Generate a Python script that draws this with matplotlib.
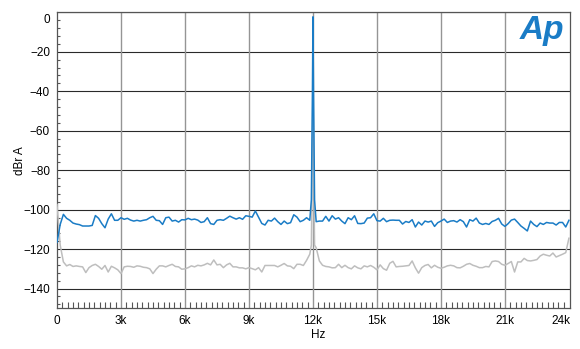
import numpy as np
import matplotlib
matplotlib.use("Agg")
import matplotlib.pyplot as plt
from matplotlib.ticker import MultipleLocator, FuncFormatter
import matplotlib.transforms as mtransforms

# ---------------- data ----------------
freq_step = 150
freqs = np.arange(0, 24001, freq_step)  # Hz

blue_db = [
    -116.6, -107.5, -102.4, -104.4, -105.4, -106.8, -107.3, -107.6, -108.3, -108.3,
    -108.3, -108.0, -103.0, -104.4, -107.1, -109.2, -104.8, -102.1, -105.4, -105.4,
    -104.1, -104.9, -104.4, -105.3, -105.8, -105.4, -105.8, -105.4, -105.1, -104.1,
    -103.4, -105.4, -105.6, -107.5, -104.1, -103.8, -105.8, -105.4, -106.3, -105.1,
    -105.2, -104.4, -105.1, -104.8, -105.3, -106.5, -106.1, -104.1, -107.1, -107.5,
    -105.4, -105.1, -105.4, -104.4, -103.3, -104.1, -104.8, -104.1, -104.9, -103.1,
    -103.4, -103.8, -100.7, -103.8, -107.0, -107.8, -105.4, -105.8, -104.3, -106.1,
    -107.5, -105.8, -107.1, -106.6, -102.6, -103.8, -106.1, -105.4, -104.1, -105.4,
    -2.3, -106.1, -105.8, -105.8, -103.4, -105.8, -103.1, -104.8, -104.1, -105.8,
    -107.1, -104.1, -105.1, -103.1, -107.0, -107.1, -106.8, -104.3, -104.1, -102.1,
    -105.6, -105.8, -104.4, -106.1, -105.4, -105.3, -105.4, -105.4, -107.3, -106.0,
    -106.5, -105.1, -108.8, -106.3, -107.8, -105.8, -106.3, -105.8, -108.5, -106.6,
    -105.8, -104.8, -106.5, -105.8, -105.6, -106.3, -105.1, -106.1, -108.8, -105.1,
    -105.8, -104.3, -106.8, -107.5, -107.0, -107.5, -106.0, -105.4, -104.4, -107.3,
    -108.5, -107.1, -105.3, -104.8, -106.5, -108.3, -109.5, -110.8, -105.8, -107.5,
    -108.6, -106.8, -107.5, -106.5, -106.8, -106.8, -107.8, -106.5, -106.5, -108.8,
    -105.4,
]

gray_db = [
    -97.4, -118.0, -126.5, -128.5, -127.8, -128.8, -128.5, -128.8, -129.0, -131.9,
    -129.4, -128.3, -127.7, -128.8, -130.2, -128.3, -131.6, -128.7, -129.5, -130.5,
    -132.4, -129.0, -128.7, -128.8, -129.2, -128.5, -128.7, -129.2, -129.4, -130.0,
    -132.4, -130.2, -128.5, -128.5, -129.0, -128.3, -127.7, -128.8, -129.0, -130.2,
    -130.0, -129.4, -128.5, -129.0, -128.2, -128.5, -128.0, -127.2, -128.0, -125.5,
    -128.0, -127.7, -129.4, -128.0, -127.2, -129.0, -129.0, -129.5, -129.5, -130.0,
    -129.4, -129.9, -130.5, -129.4, -131.6, -128.3, -128.3, -128.3, -128.3, -129.0,
    -128.2, -127.3, -128.5, -128.7, -129.9, -127.7, -127.7, -128.3, -125.7, -122.6,
    -35.0, -119.3, -126.0, -128.2, -128.8, -129.0, -129.5, -129.4, -127.7, -129.4,
    -128.2, -129.4, -130.0, -128.5, -129.5, -130.0, -128.5, -129.0, -128.3, -129.2,
    -130.5, -128.0, -129.9, -130.7, -127.2, -126.2, -129.0, -128.8, -128.7, -128.5,
    -128.3, -126.0, -129.5, -132.2, -129.4, -128.3, -127.8, -129.5, -128.2, -129.2,
    -129.7, -129.2, -128.5, -128.2, -128.5, -129.4, -129.5, -128.7, -127.7, -127.3,
    -128.2, -128.7, -129.4, -129.4, -128.8, -129.0, -126.3, -126.0, -126.3, -127.7,
    -128.2, -127.3, -126.3, -131.6, -126.5, -126.5, -124.7, -125.8, -126.0, -125.7,
    -125.3, -123.5, -122.6, -123.1, -123.5, -122.0, -124.0, -123.3, -122.6, -121.8,
    -114.5,
]

# extra samples around the 12 kHz tone
peak_freqs = [11925, 11975, 12025, 12075]
blue_peak = [-95.0, -40.0, -40.0, -95.0]
gray_peak = [-118.0, -70.0, -70.0, -118.0]

x_ticks = [0, 3000, 6000, 9000, 12000, 15000, 18000, 21000, 24000]
x_tick_labels = ["0", "3k", "6k", "9k", "12k", "15k", "18k", "21k", "24k"]
y_ticks = [0, -20, -40, -60, -80, -100, -120, -140]

# ---------------- build ----------------
f_all = np.concatenate([freqs, peak_freqs])
order = np.argsort(f_all, kind="stable")
f_all = f_all[order]
blue_all = np.concatenate([blue_db, blue_peak])[order]
gray_all = np.concatenate([gray_db, gray_peak])[order]

plt.rcParams["font.family"] = ["Liberation Sans", "DejaVu Sans"]

W, H = 580, 349
fig = plt.figure(figsize=(W / 100, H / 100), dpi=100)
ax = fig.add_axes([57 / W, (H - 308.3) / H, 513 / W, 296 / H])

BLUE = "#1a7cc6"
GRAY = "#bebebe"

ax.plot(f_all, gray_all, color=GRAY, lw=1.1, zorder=3)
ax.plot(f_all, blue_all, color=BLUE, lw=1.1, zorder=4)

ax.set_xlim(0, 24050)
ax.set_ylim(-150, 0)

ax.set_xticks(x_ticks)
ax.set_xticklabels(x_tick_labels)
ax.xaxis.set_minor_locator(MultipleLocator(250))
ax.set_yticks(y_ticks)
ax.yaxis.set_major_formatter(FuncFormatter(lambda v, p: f"{v:g}".replace("-", "\u2212")))
ax.yaxis.set_minor_locator(MultipleLocator(4))

ax.tick_params(axis="both", which="major", length=0, labelsize=8.5, colors="#000000", pad=5)
ax.tick_params(axis="y", which="minor", direction="in", length=2.5, width=0.8, color="#555555")
ax.tick_params(axis="x", which="minor", direction="in", length=4.3, width=0.8, color="#555555")

for y in y_ticks:
    ax.axhline(y, color="#2a2a2a", lw=0.8, zorder=1)
for x in x_ticks[1:-1]:
    ax.axvline(x, color="#959595", lw=1.0, zorder=1)

for s in ax.spines.values():
    s.set_color("#555555")
    s.set_linewidth(0.9)

ax.set_xlabel("Hz", fontsize=8.5)
ax.set_ylabel("dBr A", fontsize=8.5)
ax.xaxis.set_label_coords(0.51, -0.07)
ax.yaxis.set_label_coords(-0.06, 0.5)

fig.canvas.draw()
for lab in ax.get_yticklabels():
    if lab.get_text() == "0":
        lab.set_transform(lab.get_transform() + mtransforms.ScaledTranslation(0, -6 / 100, fig.dpi_scale_trans))
for lab in ax.get_xticklabels():
    if lab.get_text() == "24k":
        lab.set_transform(lab.get_transform() + mtransforms.ScaledTranslation(-8 / 100, 0, fig.dpi_scale_trans))

fig.text(542 / W, 1 - 31 / H, "Ap", color=BLUE, fontsize=24, fontweight="bold",
         fontstyle="italic", ha="center", va="center")

fig.savefig("out.png", dpi=100)
